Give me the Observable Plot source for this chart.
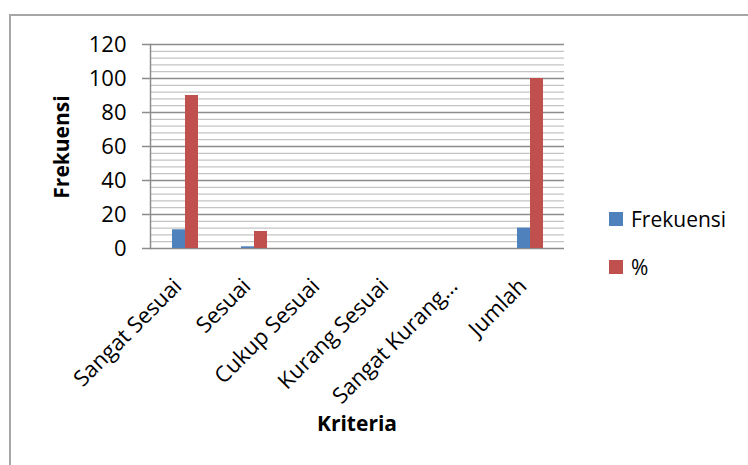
<!DOCTYPE html>
<html>
<head>
<meta charset="utf-8">
<script src="https://cdn.jsdelivr.net/npm/d3@7"></script>
<script src="https://cdn.jsdelivr.net/npm/@observablehq/plot@0.6"></script>
<style>
  html, body { margin: 0; padding: 0; background: #fff; }
  #wrap { position: relative; width: 748px; height: 465px; overflow: hidden; font-family: "Open Sans", sans-serif; color: #000; }
  #border { position: absolute; left: 9px; top: 14px; width: 760px; height: 470px; border-left: 2px solid #a6a6a6; border-top: 2px solid #a6a6a6; }
  #chart { position: absolute; left: 0; top: 0; }
  .ytitle { position: absolute; left: 61px; top: 147px; transform: translate(-50%, -50%) rotate(-90deg); font-weight: bold; font-size: 21px; white-space: nowrap; }
  .xtitle { position: absolute; left: 357px; top: 423px; transform: translate(-50%, -50%); font-weight: bold; font-size: 21px; white-space: nowrap; }
  #legend { position: absolute; left: 609px; top: 204px; font-size: 21px; }
  #legend .item { display: flex; align-items: center; height: 30px; margin-bottom: 18px; }
  #legend .sw { width: 14px; height: 14px; margin-right: 8px; }
</style>
</head>
<body>
<div id="wrap">
  <div id="border"></div>
  <div id="chart"></div>
  <div class="ytitle">Frekuensi</div>
  <div class="xtitle">Kriteria</div>
  <div id="legend"></div>
</div>
<script>
const categories = ["Sangat Sesuai", "Sesuai", "Cukup Sesuai", "Kurang Sesuai", "Sangat Kurang Sesuai", "Jumlah"];
const categoryLabels = ["Sangat Sesuai", "Sesuai", "Cukup Sesuai", "Kurang Sesuai", "Sangat Kurang…", "Jumlah"];
const series = ["Frekuensi", "%"];
const frekuensi = [11, 1, 0, 0, 0, 12];
const persen = [90, 10, 0, 0, 0, 100];
const colors = ["#4F81BD", "#C0504D"];
const majorTicks = [0, 20, 40, 60, 80, 100, 120];
const minorTicks = d3.range(0, 121, 4).filter(v => v % 20 !== 0);

const data = [];
categories.forEach((c, i) => {
  data.push({kriteria: c, seri: series[0], value: frekuensi[i]});
  data.push({kriteria: c, seri: series[1], value: persen[i]});
});
const labelOf = new Map(categories.map((c, i) => [c, categoryLabels[i]]));

const chart = Plot.plot({
  width: 748,
  height: 465,
  marginLeft: 148,
  marginRight: 182,
  marginTop: 44,
  marginBottom: 217,
  style: {fontFamily: "'Open Sans', sans-serif", fontSize: "22px", color: "#000", background: "transparent", overflow: "visible"},
  fx: {domain: categories, padding: 0, label: null},
  x: {domain: series, paddingInner: 0, paddingOuter: 1.49, axis: null},
  y: {domain: [0, 120], label: null},
  color: {domain: series, range: colors},
  marks: [
    Plot.ruleY(minorTicks, {stroke: "#c4c4c4", strokeWidth: 1.3}),
    Plot.ruleY(majorTicks, {stroke: "#8c8c8c", strokeWidth: 1.5}),
    Plot.barY(data, {fx: "kriteria", x: "seri", y: "value", fill: "seri"}),
    Plot.axisY({ticks: majorTicks, tickSize: 8, tickPadding: 16, stroke: "#8c8c8c", strokeWidth: 1.5, fontSize: 22, label: null, tickFormat: d3.format("d")}),
    Plot.axisFx({anchor: "bottom", tickRotate: -45, tickSize: 0, tickPadding: 34, dx: -7, fontSize: 22, label: null, tickFormat: d => labelOf.get(d)}),
    Plot.frame({anchor: "left", facetAnchor: "left", stroke: "#8c8c8c", strokeWidth: 1.5})
  ]
});
document.getElementById("chart").appendChild(chart);

const legend = document.getElementById("legend");
series.forEach((s, i) => {
  const item = document.createElement("div");
  item.className = "item";
  const sw = document.createElement("span");
  sw.className = "sw";
  sw.style.background = colors[i];
  const t = document.createElement("span");
  t.textContent = s;
  item.appendChild(sw);
  item.appendChild(t);
  legend.appendChild(item);
});
</script>
</body>
</html>
